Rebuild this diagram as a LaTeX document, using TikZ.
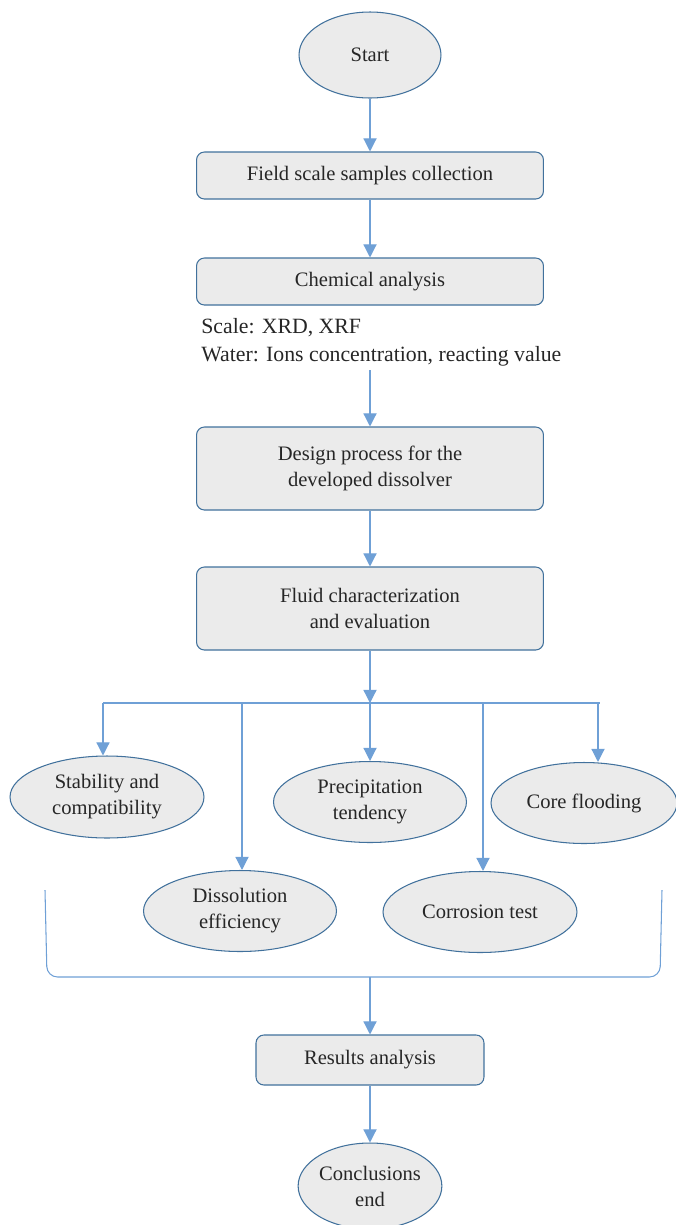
\documentclass[tikz,border=0pt]{standalone}
\usepackage{fontspec}
\setmainfont{Liberation Serif}
\usepackage{xcolor}
\usetikzlibrary{arrows.meta,positioning,shapes.geometric}
\definecolor{boxfill}{HTML}{EBEBEB}
\definecolor{boxline}{HTML}{41719C}
\definecolor{arrline}{HTML}{6FA0D6}

\begin{document}
\begin{tikzpicture}[x=0.02cm,y=-0.02cm,
  font=\fontsize{11.7}{14.8}\selectfont,
  proc/.style={draw=boxline,fill=boxfill,rounded corners=4.5pt,line width=0.6pt,align=center,text=black!85},
  term/.style={draw=boxline,fill=boxfill,ellipse,line width=0.6pt,align=center,inner sep=0pt,text=black!85},
  flow/.style={draw=arrline,line width=0.7pt},
  arr/.style={flow,-{Triangle[width=7.5pt,length=7.5pt]}}]
 \useasboundingbox (0,0) rectangle (676,1225);
 % --- main chain ---
 \node[term,minimum width=2.84cm,minimum height=1.72cm] (start) at (370,55) {Start};
 \node[proc,minimum width=6.94cm,minimum height=0.94cm] (field) at (370,175.5) {Field scale samples collection};
 \node[proc,minimum width=6.94cm,minimum height=0.94cm] (chem) at (370,281.5) {Chemical analysis};
 \node[anchor=north west,align=left,inner sep=0pt,font=\fontsize{12.4}{16}\selectfont,text=black!85] (note) at (201,318)
   {Scale: XRD, XRF\\Water: Ions concentration, reacting value};
 \coordinate (noteend) at (370,370);
 \node[proc,minimum width=6.94cm,minimum height=1.66cm] (design) at (370,468.5) {Design process for the\\developed dissolver};
 \node[proc,minimum width=6.94cm,minimum height=1.66cm] (fluid) at (370,608.5) {Fluid characterization\\and evaluation};
 \draw[arr] (start) -- (field);
 \draw[arr] (field) -- (chem);
 \draw[arr] (noteend) -- (design);
 \draw[arr] (design) -- (fluid);
 % --- tests ---
 \node[term,minimum width=3.88cm,minimum height=1.64cm] (stab) at (107,797) {Stability and\\compatibility};
 \node[term,minimum width=3.86cm,minimum height=1.62cm] (prec) at (370,802) {Precipitation\\tendency};
 \node[term,minimum width=3.72cm,minimum height=1.62cm] (core) at (584,803) {Core flooding};
 \node[term,minimum width=3.86cm,minimum height=1.62cm] (diss) at (240,911) {Dissolution\\efficiency};
 \node[term,minimum width=3.88cm,minimum height=1.62cm] (corr) at (480,912) {Corrosion test};
 \coordinate (busL) at (103,703);
 \coordinate (busR) at (600,703);
 \draw[flow] (busL) -- (busR);
 \draw[arr] (fluid) -- (fluid.south |- busL);
 \foreach \n/\x in {stab/103,diss/242,prec/370,corr/483,core/598} {
   \coordinate (b\n) at (\x,703);
   \draw[arr] (b\n) -- (b\n |- \n.north);
 }
 % --- bracket ---
 \draw[flow,line width=0.6pt,rounded corners=6pt] (45,890) -- (47,977) -- (660,977) -- (662,890);
 \coordinate (brk) at (370,977);
 % --- results ---
 \node[proc,minimum width=4.56cm,minimum height=1.0cm] (res) at (370,1060) {Results analysis};
 \node[term,minimum width=2.84cm,minimum height=1.72cm] (concl) at (370,1186) {Conclusions\\end};
 \draw[arr] (brk) -- (res);
 \draw[arr] (res) -- (concl);
\end{tikzpicture}
\end{document}
